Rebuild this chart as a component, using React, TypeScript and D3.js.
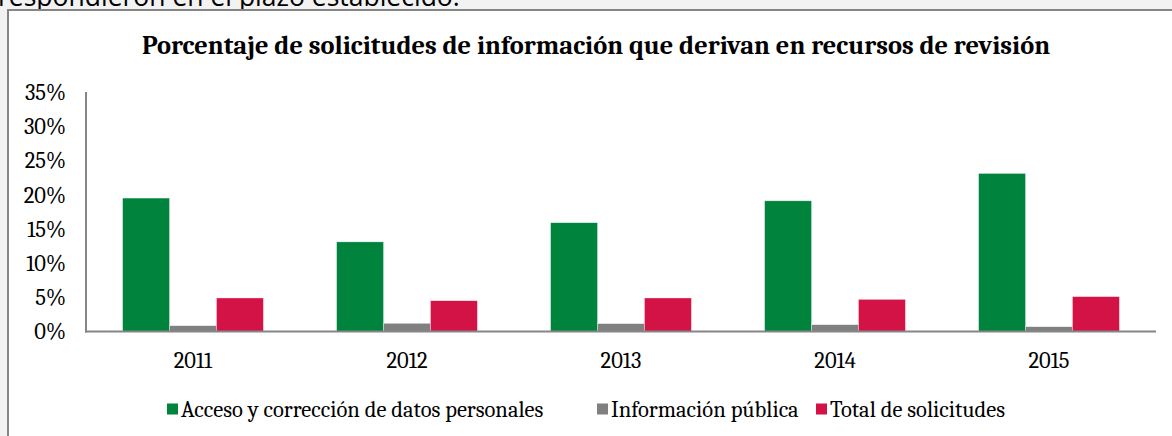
import React from 'react';
import * as d3 from 'd3';

const years = ['2011', '2012', '2013', '2014', '2015'];
const seriesNames = [
  'Acceso y corrección de datos personales',
  'Información pública',
  'Total de solicitudes',
];
const accesoValues = [19.5, 13.1, 15.9, 19.1, 23.1];
const publicaValues = [0.85, 1.2, 1.15, 1.0, 0.7];
const totalValues = [4.9, 4.5, 4.9, 4.7, 5.1];
const yTicks = [0, 5, 10, 15, 20, 25, 30, 35];
const colors = ['#00843d', '#808080', '#d31245'];

const W = 1172;
const H = 436;
const serif = "Cambria, 'DejaVu Serif', serif";

const App = () => {
  const series = [accesoValues, publicaValues, totalValues];

  const x = d3.scaleBand<string>().domain(years).range([86, 1156]);
  const xInner = d3
    .scaleBand<string>()
    .domain(seriesNames)
    .range([0, x.bandwidth()])
    .paddingInner(0)
    .paddingOuter(0.78);
  const y = d3.scaleLinear().domain([0, 35]).range([331.5, 92]);

  // legend positions
  const legendX = [167, 597, 816];

  return (
    <svg width={W} height={H} style={{ display: 'block' }}>
      <style>{`body{margin:0}`}</style>
      <rect x={0} y={0} width={W} height={H} fill="#f2f2f2" />
      <text x={-2} y={6} fontFamily="'Open Sans', sans-serif" fontSize={26.5} fill="#000">
        respondieron en el plazo establecido.
      </text>
      <rect x={8} y={10} width={W} height={H} fill="#fff" stroke="#858585" strokeWidth={2} />

      <text x={596} y={45} dy="0.35em" textAnchor="middle" fontFamily={serif} fontWeight="bold" fontSize={26.4}>
        Porcentaje de solicitudes de información que derivan en recursos de revisión
      </text>

      {yTicks.map((t) => (
        <text key={t} x={66} y={y(t)} dy="0.35em" textAnchor="end" fontFamily={serif} fontSize={22.5}>
          {t}%
        </text>
      ))}

      {years.map((yr, i) => (
        <g key={yr} transform={`translate(${x(yr)},0)`}>
          {series.map((vals, s) => (
            <rect
              key={s}
              x={xInner(seriesNames[s])}
              y={y(vals[i])}
              width={xInner.bandwidth()}
              height={y(0) - y(vals[i])}
              fill={colors[s]}
              stroke="#ffffff"
              strokeOpacity={0.6}
              strokeWidth={0.6}
            />
          ))}
          <text x={x.bandwidth() / 2} y={360} dy="0.35em" textAnchor="middle" fontFamily={serif} fontSize={22.5}>
            {yr}
          </text>
        </g>
      ))}

      <line x1={86} x2={86} y1={92} y2={332.5} stroke="#868686" strokeWidth={2} />
      <line x1={85} x2={1156} y1={331.5} y2={331.5} stroke="#868686" strokeWidth={2} />

      {seriesNames.map((name, s) => (
        <g key={name} transform={`translate(${legendX[s]},409)`}>
          <rect x={0} y={-5.5} width={11} height={11} fill={colors[s]} />
          <text x={14} y={0} dy="0.35em" fontFamily={serif} fontSize={22.5}>
            {name}
          </text>
        </g>
      ))}
    </svg>
  );
};

export default App;
